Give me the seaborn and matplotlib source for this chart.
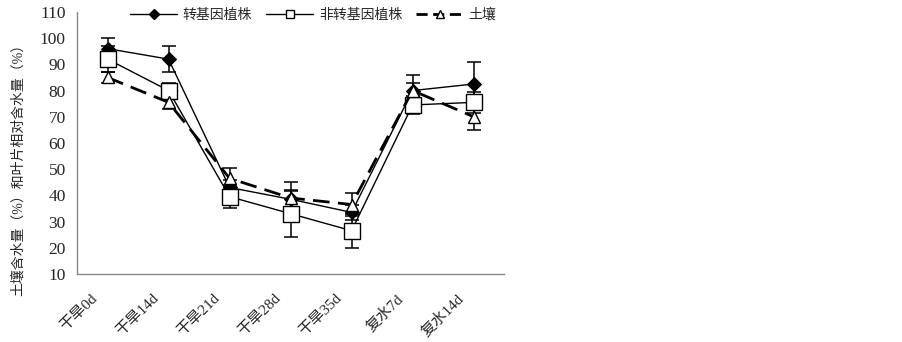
import numpy as np
import pandas as pd
import matplotlib
matplotlib.use("Agg")
import matplotlib.pyplot as plt
import matplotlib.transforms as mtransforms
from matplotlib.lines import Line2D
import seaborn as sns

# Values
stages = ["干旱0d", "干旱14d", "干旱21d", "干旱28d", "干旱35d", "复水7d", "复水14d"]
series_names = ["转基因植株", "非转基因植株", "土壤"]
trans_vals = [96, 92, 43, 38.5, 33.5, 80, 82.5]
trans_err = [4, 5, 3, 3, 3, 6, 8.5]
nontrans_vals = [92, 80, 39.5, 33, 26.5, 74.5, 75.5]
nontrans_err = [5, 3, 4.5, 9, 6.5, 3.5, 4]
soil_vals = [85, 75.5, 46.5, 39, 36.5, 80, 70]
soil_err = [2, 2.5, 4, 6, 4.5, 3, 5]

sns.set_style("white")
plt.rcParams["font.family"] = ["Liberation Serif", "Noto Sans CJK SC"]

x = np.arange(len(stages))
df = pd.DataFrame({
    "pos": np.tile(x, 3),
    "value": trans_vals + nontrans_vals + soil_vals,
    "series": np.repeat(series_names, len(stages)),
})

fig = plt.figure(figsize=(9.02, 3.42), dpi=100)
ax = fig.add_axes([0.0854, 0.199, 0.4735, 0.766])

# error bars first so markers sit on top
for vals, errs in [(trans_vals, trans_err), (nontrans_vals, nontrans_err), (soil_vals, soil_err)]:
    ax.errorbar(x, vals, yerr=errs, fmt="none", ecolor="black", elinewidth=1.1,
                capsize=5, capthick=1.1, zorder=2)

sns.lineplot(data=df, x="pos", y="value", hue="series", style="series",
             palette=["black", "black", "black"],
             markers={"转基因植株": "D", "非转基因植株": "s", "土壤": "^"},
             dashes={"转基因植株": "", "非转基因植株": "", "土壤": (6, 3)},
             ax=ax, legend=False, zorder=3)

lines = ax.get_lines()[-3:]
lines[0].set(linewidth=1.0, markersize=7.5, markerfacecolor="black", markeredgecolor="black")
lines[1].set(linewidth=1.0, markersize=11, markerfacecolor="white", markeredgecolor="black",
             markeredgewidth=1.0)
lines[2].set(linewidth=2.0, markersize=9, markerfacecolor="white", markeredgecolor="black",
             markeredgewidth=1.0)

ax.set_xlim(-0.5, len(stages) - 0.5)
ax.set_ylim(10, 110)
ax.set_yticks(range(10, 111, 10))
ax.set_xticks(np.arange(-0.5, len(stages), 1.0))
ax.set_xticklabels([])
ax.set_xticks(x, minor=True)
ax.set_xticklabels(stages, minor=True, rotation=45, ha="right", rotation_mode="anchor",
                   fontsize=11)
ax.tick_params(axis="x", which="major", direction="in", length=5, color="#888888")
ax.tick_params(axis="x", which="minor", length=0, pad=13)
ax.tick_params(axis="y", direction="in", length=3, color="#888888", labelsize=12.5, pad=8)
# shift rotated labels left so they end just left of the category centre
shift = mtransforms.ScaledTranslation(-17 / 100, 0, fig.dpi_scale_trans)
for lbl in ax.get_xticklabels(minor=True):
    lbl.set_transform(lbl.get_transform() + shift)

ax.set_xlabel("")
ax.set_ylabel("土壤含水量（%）和叶片相对含水量（%）", fontsize=10)
ax.yaxis.set_label_coords(-0.122, 0.41)
sns.despine(ax=ax)
for sp in ["left", "bottom"]:
    ax.spines[sp].set_color("#888888")
    ax.spines[sp].set_linewidth(1.0)

handles = [
    Line2D([], [], color="black", lw=1.0, marker="D", ms=5, mfc="black", mec="black"),
    Line2D([], [], color="black", lw=1.0, marker="s", ms=6, mfc="white", mec="black"),
    Line2D([], [], color="black", lw=2.0, ls=(0, (4, 2)), marker="^", ms=6, mfc="white", mec="black"),
]
ax.legend(handles, series_names, loc="center left", bbox_to_anchor=(0.124, 0.988), ncol=3,
          frameon=False, fontsize=10, handlelength=3.4, columnspacing=1.0,
          handletextpad=0.4, borderaxespad=0, borderpad=0)

fig.savefig("out.png", dpi=100)
